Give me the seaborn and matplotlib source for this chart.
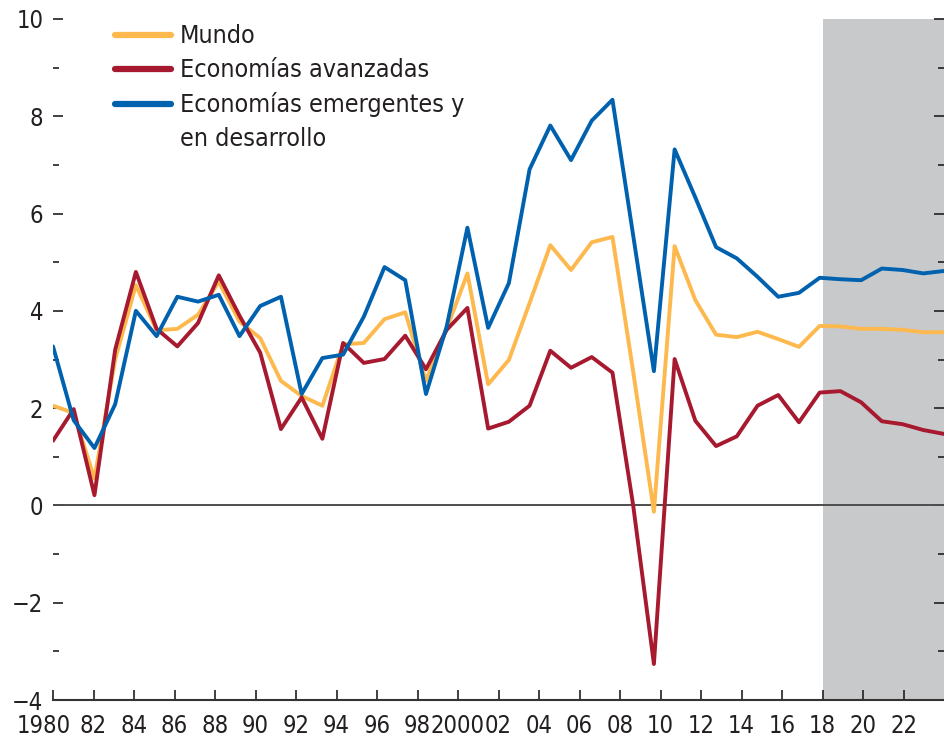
import numpy as np
import pandas as pd
import seaborn as sns
import matplotlib.pyplot as plt
import matplotlib.transforms as mtransforms
from matplotlib.lines import Line2D

years = list(range(1980, 2024))
mundo = [2.05, 1.90, 0.55, 3.00, 4.53, 3.60, 3.63, 3.92, 4.60, 3.78,
         3.44, 2.56, 2.25, 2.05, 3.31, 3.34, 3.83, 3.97, 2.56, 3.63,
         4.77, 2.49, 2.99, 4.16, 5.35, 4.84, 5.41, 5.52, 2.75, -0.13,
         5.33, 4.22, 3.51, 3.46, 3.57, 3.42, 3.26, 3.69, 3.68, 3.63,
         3.63, 3.61, 3.56, 3.56]
avanzadas = [1.33, 1.98, 0.21, 3.20, 4.80, 3.63, 3.27, 3.75, 4.73, 3.90,
             3.14, 1.57, 2.22, 1.37, 3.34, 2.93, 3.01, 3.49, 2.80, 3.61,
             4.06, 1.58, 1.72, 2.05, 3.18, 2.83, 3.05, 2.73, 0.00, -3.26,
             3.01, 1.74, 1.22, 1.42, 2.05, 2.27, 1.71, 2.32, 2.35, 2.12,
             1.73, 1.67, 1.55, 1.47]
emergentes = [3.27, 1.75, 1.18, 2.08, 4.00, 3.48, 4.29, 4.19, 4.33, 3.48,
              4.10, 4.29, 2.29, 3.03, 3.10, 3.88, 4.90, 4.63, 2.29, 3.68,
              5.71, 3.65, 4.57, 6.91, 7.81, 7.10, 7.91, 8.34, 5.55, 2.76,
              7.32, 6.33, 5.31, 5.08, 4.70, 4.29, 4.37, 4.68, 4.65, 4.63,
              4.87, 4.84, 4.77, 4.82]

series_names = ["Mundo", "Economías avanzadas", "Economías emergentes y en desarrollo"]
colors = ["#FDB94D", "#A6192E", "#0061AE"]
tick_years = list(range(1980, 2024, 2))
tick_labels = [str(y) if y in (1980, 2000) else f"{y % 100:02d}" for y in tick_years]
proj_start = 2018

df = pd.DataFrame({
    "year": years * 3,
    "value": mundo + avanzadas + emergentes,
    "serie": np.repeat(series_names, len(years)),
})

sns.set_style("ticks")
plt.rcParams["font.family"] = ["DejaVu Sans"]
plt.rcParams["font.stretch"] = "condensed"
plt.rcParams["text.color"] = "#231F20"
plt.rcParams["xtick.color"] = "#231F20"
plt.rcParams["ytick.color"] = "#231F20"

fig = plt.figure(figsize=(9.44, 7.38), dpi=100)
ax = fig.add_axes([53 / 944, 38 / 738, 891 / 944, 681 / 738])

# the original axis squeezes 44 labelled years onto 43 data steps
scale = (years[-1] - years[0]) / (years[-1] - years[0] + 1)
def to_axis(y):
    return years[0] + (y - years[0]) * scale

ax.axvspan(to_axis(proj_start), years[-1], color="#C8C9CB", lw=0, zorder=0)
ax.axhline(0, color="#4D4D4D", lw=1.4, zorder=1)

sns.lineplot(data=df, x="year", y="value", hue="serie", hue_order=series_names,
             palette=colors, linewidth=2.8, legend=False, ax=ax, zorder=3)

ax.set_xlim(years[0], years[-1])
ax.set_ylim(-4, 10)
ax.set_xlabel("")
ax.set_ylabel("")

ax.set_xticks([to_axis(y) for y in tick_years])
ax.set_xticklabels(tick_labels, fontsize=17)
ax.set_yticks(range(-4, 11, 2))
ax.set_yticks(range(-3, 10, 2), minor=True)
ax.tick_params(axis="y", which="major", direction="in", length=7, width=1.2,
               labelsize=17, pad=7, left=True, right=True)
ax.tick_params(axis="y", which="minor", direction="in", length=4.5, width=1.2,
               left=True, right=True)
ax.tick_params(axis="x", direction="in", length=7, width=1.2, pad=10)

for s in ["left", "right", "top"]:
    ax.spines[s].set_visible(False)
ax.spines["bottom"].set_linewidth(1.5)
ax.spines["bottom"].set_color("#333333")

# nudge the "1980" label left as in the original
lbl = ax.get_xticklabels()[0]
lbl.set_transform(lbl.get_transform() + mtransforms.ScaledTranslation(-9 / 100, 0, fig.dpi_scale_trans))

handles = [Line2D([], [], color=c, lw=4.5) for c in colors]
handles.append(Line2D([], [], color="none"))
labels = ["Mundo", "Economías avanzadas", "Economías emergentes y", "en desarrollo"]
ax.legend(handles, labels, loc="upper left", bbox_to_anchor=(62 / 891, 0.992),
          frameon=False, fontsize=18, borderpad=0, borderaxespad=0,
          handlelength=2.25, handletextpad=0.35, labelspacing=0.4)

fig.savefig("out.png", dpi=100)
